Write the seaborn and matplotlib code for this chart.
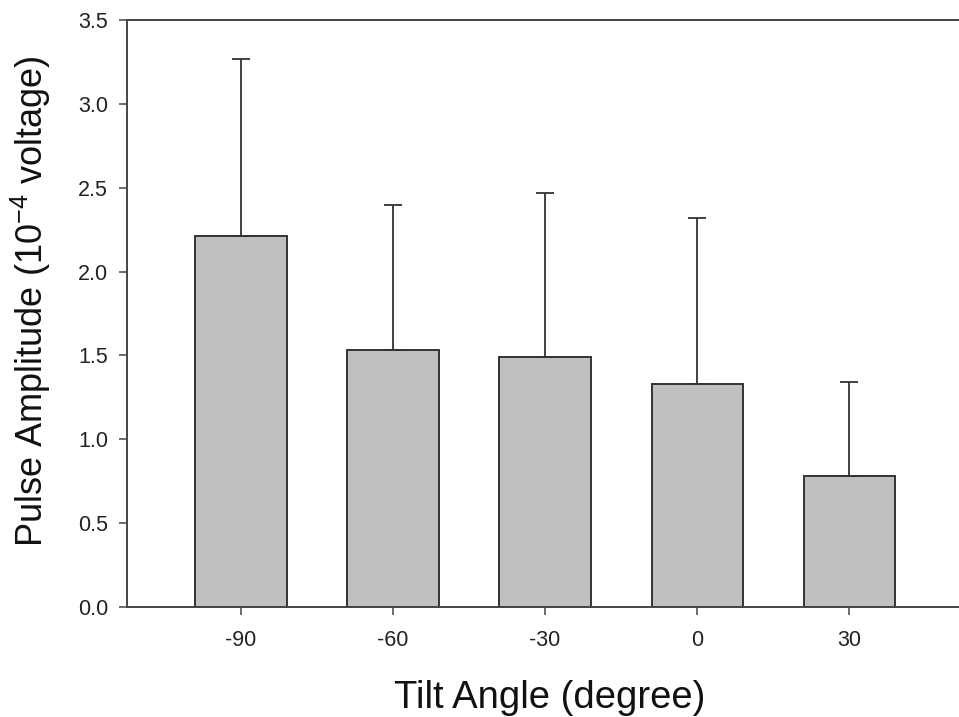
import seaborn as sns
import pandas as pd
import matplotlib.pyplot as plt

# values
angles = ["-90", "-60", "-30", "0", "30"]
amplitude = [2.21, 1.53, 1.49, 1.33, 0.78]
upper = [3.27, 2.40, 2.47, 2.32, 1.34]
y_ticks = [0.0, 0.5, 1.0, 1.5, 2.0, 2.5, 3.0, 3.5]

df = pd.DataFrame({"Angle": angles, "Amplitude": amplitude, "Upper": upper})
df["Err"] = df["Upper"] - df["Amplitude"]

sns.set_theme(style="ticks")
plt.rcParams["font.family"] = ["Liberation Sans", "DejaVu Sans"]
plt.rcParams["mathtext.fontset"] = "custom"
plt.rcParams["mathtext.rm"] = "Liberation Sans"
plt.rcParams["mathtext.it"] = "Liberation Sans:italic"

edge = "#333333"
fig, ax = plt.subplots(figsize=(9.59, 7.17), dpi=100)
ax.set_position([0.1324, 0.1534, 0.872, 0.8186])

plot = sns.barplot(data=df, x="Angle", y="Amplitude", order=angles,
                   color="#c0c0c0", saturation=1, edgecolor=edge,
                   linewidth=1.4, width=0.6, errorbar=None, ax=ax)
ax.errorbar(x=range(len(angles)), y=df["Amplitude"],
            yerr=[[0] * len(angles), df["Err"]], fmt="none",
            ecolor=edge, elinewidth=1.3, capsize=6.5, capthick=1.3, zorder=1)

ax.set_xlim(-0.75, 4.75)
ax.set_ylim(0, 3.5)
ax.set_yticks(y_ticks)
ax.set_yticklabels([f"{t:.1f}" for t in y_ticks])

for side in ["left", "bottom", "top", "right"]:
    ax.spines[side].set_visible(True)
    ax.spines[side].set_color("#444444")
    ax.spines[side].set_linewidth(1.4)
ax.tick_params(axis="both", direction="out", length=5.5, width=1.1,
               color="#444444", labelsize=15.5, labelcolor="#222222")
ax.tick_params(axis="x", pad=11)
ax.tick_params(axis="y", pad=8)

ax.set_xlabel("Tilt Angle (degree)", fontsize=27.5, color="#111111")
ax.set_ylabel("Pulse Amplitude (10$^{-4}$ voltage)", fontsize=26,
              color="#111111")
ax.yaxis.set_label_coords(-0.088, 0.522)
ax.xaxis.set_label_coords(0.506, -0.124)
ax.xaxis.label.set_va("top")

plt.savefig("out.png", dpi=100)
